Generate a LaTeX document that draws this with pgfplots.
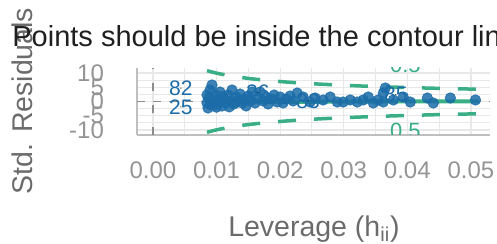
\documentclass[border=0pt]{standalone}
\usepackage{fontspec}
\setmainfont{Liberation Sans}
\usepackage{pgfplots}
\pgfplotsset{compat=1.18}
\definecolor{sgreen}{RGB}{58,175,133}
\definecolor{sblue}{RGB}{27,108,168}
\definecolor{gridc}{RGB}{232,232,232}
\begin{document}
\begin{tikzpicture}
\useasboundingbox (0,0) rectangle (248.5pt,122pt);
\begin{axis}[
 at={(68.5pt,54.5pt)}, anchor=south west,
 scale only axis, width=176.5pt, height=33.5pt,
 xmin=-0.0025, xmax=0.053, ymin=-11.75, ymax=11.75,
 scaled x ticks=false, scaled y ticks=false,
 xtick={0,0.01,0.02,0.03,0.04,0.05},
 xticklabels={0.00,0.01,0.02,0.03,0.04,0.05},
 ytick={-10,-5,0,5,10}, yticklabels={-10,-5,0,5,10},
 minor xtick={0.005,0.015,0.025,0.035,0.045},
 minor ytick={-7.5,-2.5,2.5,7.5},
 grid=both,
 major grid style={gridc, line width=0.6pt},
 minor grid style={gridc, line width=0.5pt},
 axis x line*=bottom, axis y line*=left,
 axis line style={black!25, line width=0.6pt, -},
 major tick length=0pt, minor tick length=0pt,
 tick label style={font=\fontsize{12}{14}\selectfont, text=black!42},
 xticklabel style={yshift=-10pt},
 yticklabel style={xshift=-13pt},
 clip=true,
]
\addplot[black!45, line width=0.6pt, dash pattern=on 4pt off 4pt] coordinates {(-0.0025,0) (0.053,0)};
\addplot[black!45, line width=0.6pt, dash pattern=on 4pt off 7pt] coordinates {(0,-11.75) (0,11.75)};
% Cook's distance 0.5 contours
\addplot[sgreen, line width=1.75pt, dash pattern=on 9pt off 9pt, smooth] coordinates {
(0.0085,10.80) (0.0095,10.21) (0.0105,9.71) (0.012,9.07) (0.0135,8.55) (0.015,8.10)
(0.0175,7.49) (0.02,7.00) (0.0225,6.59) (0.025,6.245) (0.0275,5.95) (0.03,5.686)
(0.0325,5.456) (0.035,5.251) (0.0375,5.066) (0.04,4.899) (0.0425,4.747) (0.045,4.607)
(0.0475,4.478) (0.0512,4.305)};
\addplot[sgreen, line width=1.75pt, dash pattern=on 9pt off 9pt, smooth] coordinates {
(0.0085,-10.80) (0.0095,-10.21) (0.0105,-9.71) (0.012,-9.07) (0.0135,-8.55) (0.015,-8.10)
(0.0175,-7.49) (0.02,-7.00) (0.0225,-6.59) (0.025,-6.245) (0.0275,-5.95) (0.03,-5.686)
(0.0325,-5.456) (0.035,-5.251) (0.0375,-5.066) (0.04,-4.899) (0.0425,-4.747) (0.045,-4.607)
(0.0475,-4.478) (0.0512,-4.305)};
% points
\addplot[only marks, mark=*, mark size=2.6pt, mark options={draw=sblue, fill=sblue, fill opacity=0.85, draw opacity=0.85}] table {
x y
0.00850 2.28
0.00850 -0.53
0.00866 -2.28
0.00882 1.23
0.00898 4.04
0.00929 5.79
0.00945 0.53
0.00961 -1.23
0.00900 -1.00
0.00992 2.28
0.01000 -2.00
0.01024 -0.18
0.01050 0.30
0.01055 3.33
0.01087 -1.58
0.01100 1.80
0.01118 0.88
0.01150 -0.53
0.01181 2.28
0.01200 -1.90
0.01213 0.18
0.01244 4.04
0.01276 -0.88
0.01300 -0.20
0.01307 1.58
0.01339 0.53
0.01370 2.63
0.01402 -0.53
0.01433 0.88
0.01465 -1.58
0.01496 1.93
0.01528 0.18
0.01559 3.33
0.01606 -0.53
0.01654 1.23
0.01685 3.33
0.01732 0.18
0.01780 1.58
0.01811 -0.88
0.01858 0.88
0.01906 2.28
0.01953 -0.18
0.02000 1.58
0.02047 -0.53
0.02094 0.88
0.02157 1.93
0.02205 0.18
0.02268 2.98
0.02362 1.58
0.02472 -0.18
0.02551 1.23
0.02677 0.53
0.02787 1.58
0.02898 -0.18
0.02992 -0.18
0.03102 0.53
0.03213 -0.18
0.03307 0.53
0.03386 1.58
0.03465 -0.53
0.03543 0.53
0.03622 2.98
0.03622 -0.18
0.03654 4.74
0.03780 0.53
0.03937 1.58
0.04047 -0.18
0.04315 1.23
0.04409 -0.53
0.04677 1.23
0.05071 0.53
};
% smooth fit line
\addplot[sgreen, line width=2pt, smooth] coordinates {
(0.0085,-0.10) (0.015,-0.15) (0.025,-0.10) (0.035,0.00) (0.045,0.05) (0.0512,0.05)};
% point labels
\addplot[only marks, mark=*, mark size=0.01pt, mark options={draw=none, fill=none},
 nodes near coords, point meta=explicit symbolic,
 nodes near coords style={anchor=center, text=sblue, font=\fontsize{10.5}{12}\selectfont}]
 table[meta=label] {
x y label
0.0044 4.7 82
0.0044 -1.9 25
0.0165 3.1 26
0.0244 0.2 83
0.0382 2.4 85
};
\node[text=sgreen, font=\fontsize{11}{13}\selectfont] at (axis cs:0.0397,12.9) {0.5};
\node[text=sgreen, font=\fontsize{11}{13}\selectfont] at (axis cs:0.0397,-10.3) {0.5};
\end{axis}
\node[rotate=90, anchor=center, font=\fontsize{14.25}{17}\selectfont, text=black!58] at (11pt,71.5pt) {Std. Residuals};
\node[anchor=base west, inner sep=0pt, font=\fontsize{14.5}{17}\selectfont, text=black!88] at (6pt,98.5pt) {Points should be inside the contour lines};
\node[anchor=base, inner sep=0pt, font=\fontsize{14.25}{17}\selectfont, text=black!58] at (157pt,3.5pt) {Leverage (h\textsubscript{ii})};
\end{tikzpicture}
\end{document}
